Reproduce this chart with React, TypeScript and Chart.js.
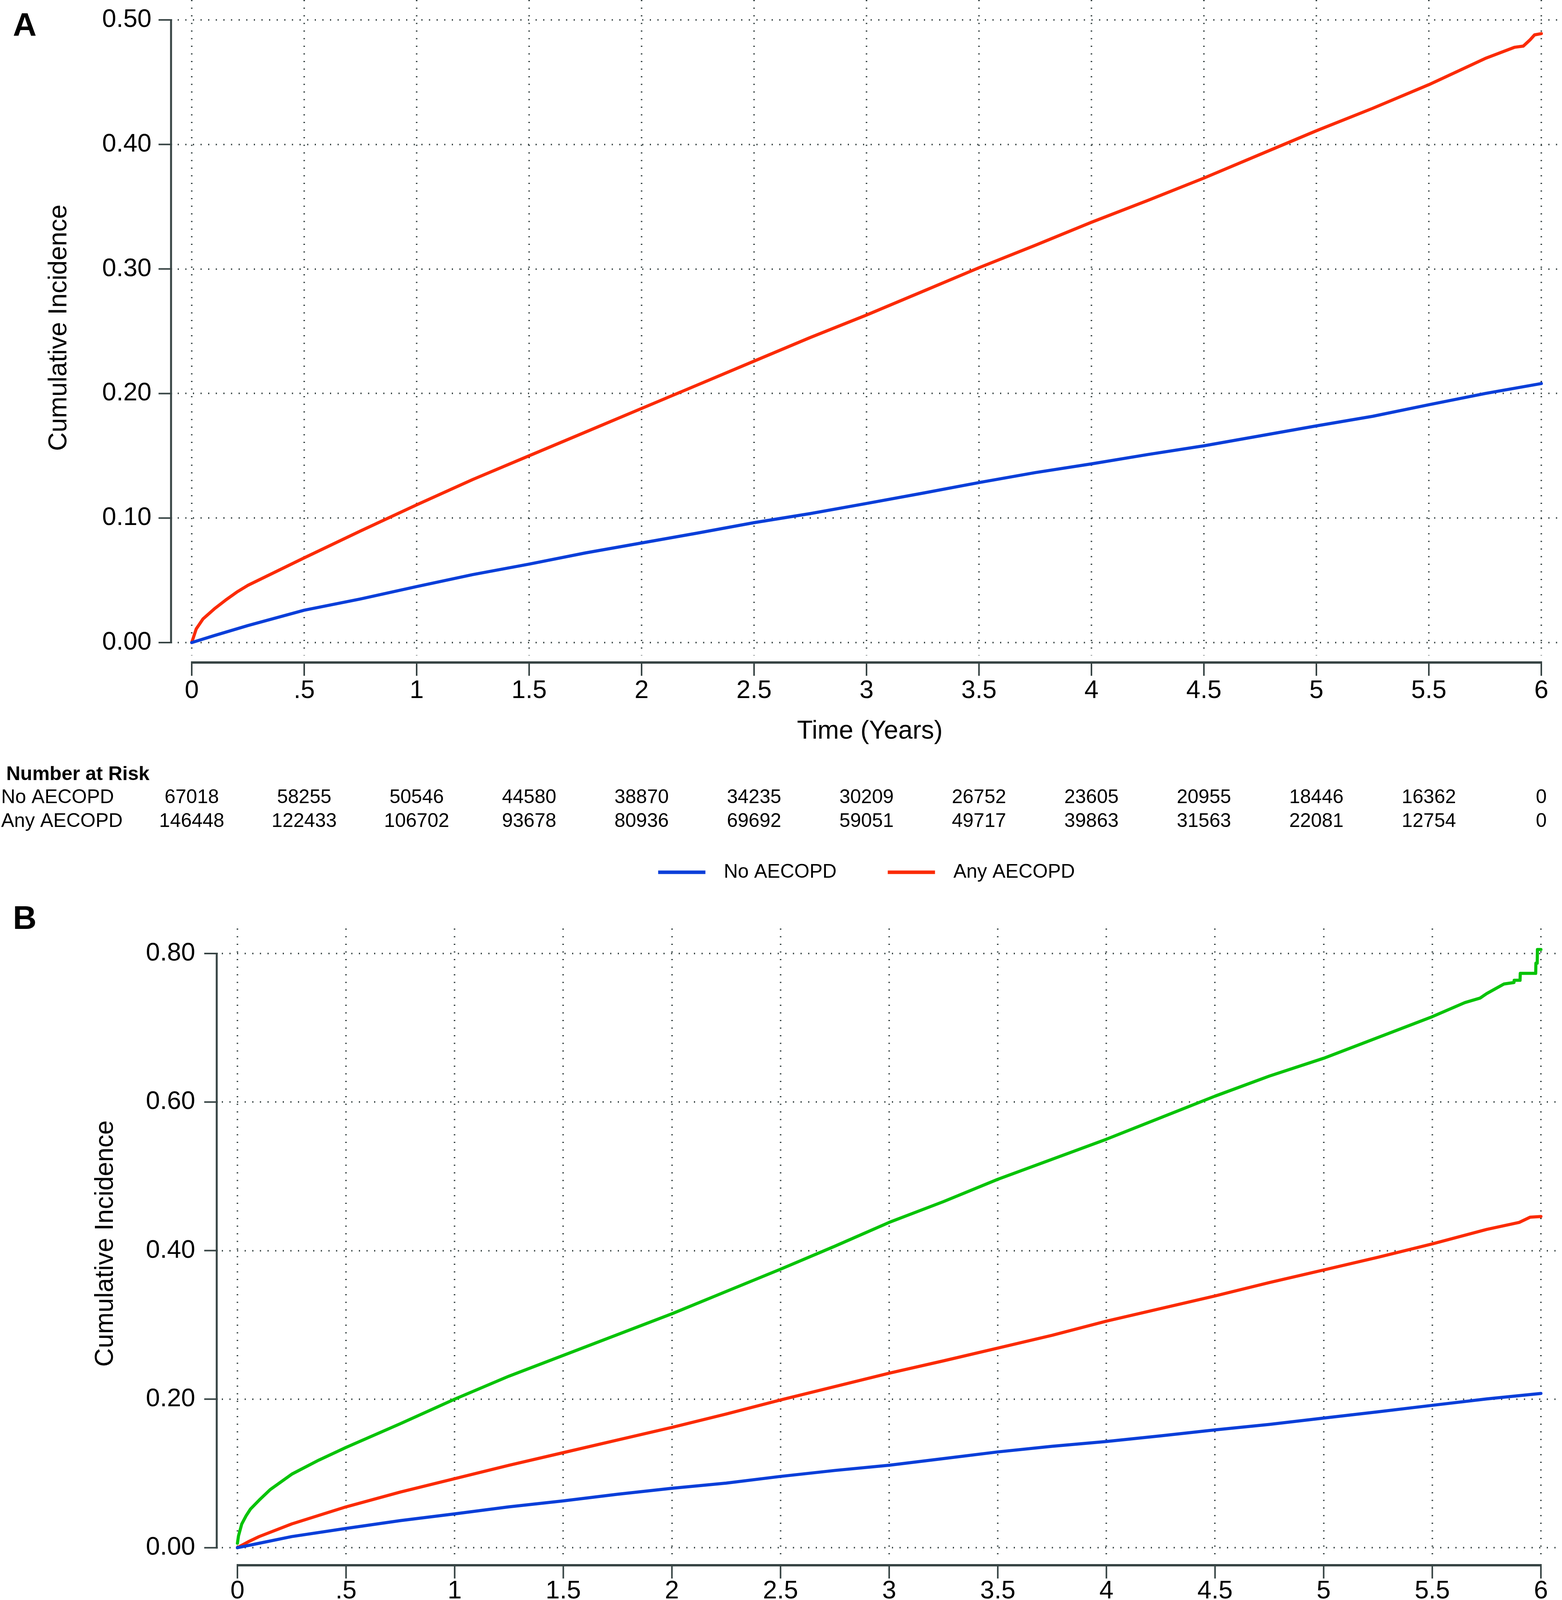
import React, { useEffect, useRef } from "react";
import { Chart, registerables } from "chart.js";

Chart.register(...registerables);

const FONT = "'Liberation Sans', Arial, Helvetica, sans-serif";
Chart.defaults.font.family = FONT;
Chart.defaults.color = "#000";

// ---------- shared axis data ----------
const xTickValues = [0, 0.5, 1, 1.5, 2, 2.5, 3, 3.5, 4, 4.5, 5, 5.5, 6];
const xTickLabels = ["0", ".5", "1", "1.5", "2", "2.5", "3", "3.5", "4", "4.5", "5", "5.5", "6"];
const yTicksA = [0, 0.1, 0.2, 0.3, 0.4, 0.5];
const yTicksB = [0, 0.2, 0.4, 0.6, 0.8];

// ---------- Panel A ----------
const timeNoA = [0, 0.1, 0.25, 0.5, 0.75, 1, 1.25, 1.5, 1.75, 2, 2.25, 2.5, 2.75, 3, 3.25, 3.5, 3.75, 4, 4.25, 4.5, 4.75, 5, 5.25, 5.5, 5.75, 6];
const incNoA = [0, 0.0056, 0.0137, 0.026, 0.035, 0.045, 0.0546, 0.063, 0.072, 0.08, 0.088, 0.0963, 0.1036, 0.1117, 0.12, 0.1285, 0.1365, 0.1435, 0.151, 0.158, 0.166, 0.174, 0.1817, 0.191, 0.2, 0.208];

const timeAnyA = [0, 0.02, 0.05, 0.1, 0.15, 0.2, 0.25, 0.5, 0.75, 1, 1.25, 1.5, 1.75, 2, 2.25, 2.5, 2.75, 3, 3.25, 3.5, 3.75, 4, 4.25, 4.5, 4.75, 5, 5.25, 5.5, 5.75, 5.88, 5.92, 5.95, 5.97, 6];
const incAnyA = [0, 0.011, 0.019, 0.027, 0.034, 0.0405, 0.046, 0.068, 0.0896, 0.1106, 0.131, 0.15, 0.169, 0.188, 0.207, 0.226, 0.245, 0.263, 0.282, 0.301, 0.319, 0.3375, 0.355, 0.373, 0.392, 0.411, 0.429, 0.448, 0.469, 0.478, 0.479, 0.484, 0.488, 0.489];

const riskNoA = [67018, 58255, 50546, 44580, 38870, 34235, 30209, 26752, 23605, 20955, 18446, 16362, 0];
const riskAnyA = [146448, 122433, 106702, 93678, 80936, 69692, 59051, 49717, 39863, 31563, 22081, 12754, 0];

// ---------- Panel B ----------
const timeNoB = [0, 0.1, 0.25, 0.5, 0.75, 1, 1.25, 1.5, 1.75, 2, 2.25, 2.5, 2.75, 3, 3.25, 3.5, 3.75, 4, 4.25, 4.5, 4.75, 5, 5.25, 5.5, 5.75, 6];
const incNoB = [0, 0.006, 0.015, 0.026, 0.0365, 0.0456, 0.055, 0.063, 0.072, 0.08, 0.087, 0.096, 0.104, 0.111, 0.12, 0.129, 0.1365, 0.143, 0.1506, 0.1586, 0.166, 0.1746, 0.183, 0.1917, 0.2003, 0.2077];

const timeModB = [0, 0.05, 0.1, 0.25, 0.5, 0.75, 1, 1.25, 1.5, 1.75, 2, 2.25, 2.5, 2.75, 3, 3.25, 3.5, 3.75, 4, 4.25, 4.5, 4.75, 5, 5.25, 5.5, 5.75, 5.9, 5.95, 6];
const incModB = [0, 0.008, 0.015, 0.032, 0.055, 0.075, 0.093, 0.111, 0.128, 0.145, 0.162, 0.18, 0.199, 0.217, 0.235, 0.2516, 0.2688, 0.286, 0.305, 0.322, 0.339, 0.357, 0.374, 0.391, 0.409, 0.4285, 0.438, 0.445, 0.446];

const timeSevB = [0, 0.005, 0.02, 0.04, 0.06, 0.1, 0.15, 0.25, 0.375, 0.5, 0.75, 1, 1.25, 1.5, 1.75, 2, 2.25, 2.5, 2.75, 3, 3.25, 3.5, 3.75, 4, 4.25, 4.5, 4.75, 5, 5.25, 5.5, 5.65, 5.72, 5.75, 5.83, 5.876, 5.877, 5.904, 5.905, 5.976, 5.977, 5.983, 5.984, 6];
const incSevB = [0.006, 0.016, 0.032, 0.043, 0.052, 0.064, 0.078, 0.099, 0.118, 0.135, 0.167, 0.2, 0.231, 0.259, 0.287, 0.315, 0.345, 0.375, 0.406, 0.438, 0.466, 0.496, 0.523, 0.55, 0.579, 0.608, 0.635, 0.659, 0.687, 0.715, 0.734, 0.74, 0.746, 0.759, 0.761, 0.764, 0.764, 0.7733, 0.7733, 0.787, 0.787, 0.8054, 0.8054];

const riskNoB = [67018, 58255, 50546, 44580, 38870, 34235, 30209, 26752, 23605, 20955, 18446, 16362, 0];
const riskModB = [119124, 104070, 91816, 81428, 70904, 61565, 52633, 44612, 36040, 28725, 20232, 11772, 0];
const riskSevB = [27324, 18363, 14886, 12250, 10032, 8127, 6418, 5105, 3823, 2838, 1849, 982, 0];

// ---------- styles ----------
const BLUE = "#0b3fd9";
const RED = "#fb2b05";
const GREEN = "#08c308";
const AXIS = "#374444";
const GRID = "#3a4646";

const toPts = (t: number[], v: number[]) => t.map((x, i) => ({ x, y: v[i] }));

const lineDs = (label: string, color: string, t: number[], v: number[]) => ({
  label,
  data: toPts(t, v),
  borderColor: color,
  backgroundColor: color,
  borderWidth: 8,
  pointRadius: 0,
  pointHoverRadius: 0,
  fill: false,
  tension: 0,
  borderJoinStyle: "round",
  borderCapStyle: "round",
});

const panelA = {
  key: "A",
  height: 2320,
  padTop: 0,
  yAxisWidth: 455,
  xAxisHeight: 642,
  xMin: -0.0625,
  xMax: 6.092,
  yMin: -0.01035,
  yMax: 0.516,
  yTicks: yTicksA,
  yLabelPad: 67,
  yTitlePadTop: 112,
  xLabelPad: 52,
  xTitlePadBottom: 408,
  axisX: 438,
  axisY: 1696,
  letterX: 33,
  letterBase: 92,
  riskTitleX: 16,
  riskTitleBase: 1997,
  riskLabelX: 3,
  riskRowBase: 2056,
  riskRowStep: 60.5,
  legendY: 2233,
  datasets: [lineDs("No AECOPD", BLUE, timeNoA, incNoA), lineDs("Any AECOPD", RED, timeAnyA, incAnyA)],
  riskRows: [
    { label: "No AECOPD", values: riskNoA },
    { label: "Any AECOPD", values: riskAnyA },
  ],
};

const panelB = {
  key: "B",
  height: 2350,
  padTop: 57,
  yAxisWidth: 568,
  xAxisHeight: 680,
  xMin: -0.0719,
  xMax: 6.0971,
  yMin: -0.01466,
  yMax: 0.8337,
  yTicks: yTicksB,
  yLabelPad: 68,
  yTitlePadTop: 231,
  xLabelPad: 45,
  xTitlePadBottom: 441,
  axisX: 555,
  axisY: 1687,
  letterX: 33,
  letterBase: 58,
  riskTitleX: 26,
  riskTitleBase: 1992,
  riskLabelX: 13,
  riskRowBase: 2052,
  riskRowStep: 60,
  legendY: 2289,
  datasets: [
    lineDs("No AECOPD", BLUE, timeNoB, incNoB),
    lineDs("Moderate AECOPD", RED, timeModB, incModB),
    lineDs("Severe AECOPD", GREEN, timeSevB, incSevB),
  ],
  riskRows: [
    { label: "No AECOPD", values: riskNoB },
    { label: "Moderate AECOPD", values: riskModB },
    { label: "Severe AECOPD", values: riskSevB },
  ],
};

function makeDecor(cfg: any) {
  return {
    id: "decor" + cfg.key,
    afterDraw(chart: any) {
      const ctx = chart.ctx;
      const xs = chart.scales.x;
      const ys = chart.scales.y;
      ctx.save();
      ctx.strokeStyle = AXIS;
      ctx.lineCap = "butt";

      // y axis line + ticks
      const yTop = ys.getPixelForValue(cfg.yTicks[cfg.yTicks.length - 1]);
      const yBot = ys.getPixelForValue(0);
      ctx.lineWidth = 5;
      ctx.beginPath();
      ctx.moveTo(cfg.axisX, yTop - 2);
      ctx.lineTo(cfg.axisX, yBot + 2);
      ctx.stroke();
      ctx.lineWidth = 4;
      for (const v of cfg.yTicks) {
        const p = ys.getPixelForValue(v);
        ctx.beginPath();
        ctx.moveTo(cfg.axisX - 32, p);
        ctx.lineTo(cfg.axisX + 2.5, p);
        ctx.stroke();
      }

      // x axis line + ticks
      const xL = xs.getPixelForValue(xTickValues[0]);
      const xR = xs.getPixelForValue(xTickValues[xTickValues.length - 1]);
      ctx.lineWidth = 6;
      ctx.beginPath();
      ctx.moveTo(xL - 2, cfg.axisY);
      ctx.lineTo(xR + 2, cfg.axisY);
      ctx.stroke();
      ctx.lineWidth = 4;
      for (const v of xTickValues) {
        const p = xs.getPixelForValue(v);
        ctx.beginPath();
        ctx.moveTo(p, cfg.axisY - 3);
        ctx.lineTo(p, cfg.axisY + 34);
        ctx.stroke();
      }

      // panel letter
      ctx.fillStyle = "#000";
      ctx.textAlign = "left";
      ctx.textBaseline = "alphabetic";
      ctx.font = `bold 84px ${FONT}`;
      ctx.fillText(cfg.key, cfg.letterX, cfg.letterBase);

      // number at risk table
      ctx.font = `bold 50px ${FONT}`;
      ctx.fillText("Number at Risk", cfg.riskTitleX, cfg.riskTitleBase);
      ctx.font = `50px ${FONT}`;
      cfg.riskRows.forEach((row: any, r: number) => {
        const base = cfg.riskRowBase + r * cfg.riskRowStep;
        ctx.textAlign = "left";
        ctx.fillText(row.label, cfg.riskLabelX, base);
        ctx.textAlign = "center";
        row.values.forEach((val: number, i: number) => {
          ctx.fillText(String(val), xs.getPixelForValue(xTickValues[i]), base);
        });
      });

      // legend
      const items = chart.data.datasets.map((d: any) => ({ label: d.label, color: d.borderColor, w: 0 }));
      const lineW = 121;
      const gapLT = 47;
      const gapItem = 131;
      ctx.font = `50px ${FONT}`;
      let total = 0;
      items.forEach((it: any, i: number) => {
        it.w = ctx.measureText(it.label).width;
        total += lineW + gapLT + it.w + (i > 0 ? gapItem : 0);
      });
      let x = (xL + xR) / 2 - total / 2;
      ctx.textAlign = "left";
      ctx.textBaseline = "middle";
      items.forEach((it: any) => {
        ctx.fillStyle = it.color;
        ctx.fillRect(x, cfg.legendY - 4.5, lineW, 9);
        x += lineW + gapLT;
        ctx.fillStyle = "#000";
        ctx.fillText(it.label, x, cfg.legendY);
        x += it.w + gapItem;
      });
      ctx.restore();
    },
  };
}

function buildConfig(cfg: any) {
  const fitReset = (s: any) => {
    s.paddingLeft = 0;
    s.paddingRight = 0;
    s.paddingTop = 0;
    s.paddingBottom = 0;
  };
  const gridOpts = { display: true, drawOnChartArea: true, drawTicks: false, color: GRID, lineWidth: 4, borderDash: [3, 16.5] };
  return {
    type: "line",
    data: { datasets: cfg.datasets },
    options: {
      responsive: false,
      maintainAspectRatio: false,
      animation: false,
      devicePixelRatio: 1,
      events: [],
      layout: { padding: { top: cfg.padTop, left: 0, right: 0, bottom: 0 }, autoPadding: false },
      plugins: { legend: { display: false }, tooltip: { enabled: false }, title: { display: false } },
      scales: {
        x: {
          type: "linear",
          min: cfg.xMin,
          max: cfg.xMax,
          afterBuildTicks: (s: any) => {
            s.ticks = xTickValues.map((v) => ({ value: v }));
          },
          afterFit: (s: any) => {
            s.height = cfg.xAxisHeight;
            fitReset(s);
          },
          grid: gridOpts,
          border: { display: false, dash: [3, 16.5] },
          ticks: {
            autoSkip: false,
            maxRotation: 0,
            minRotation: 0,
            padding: cfg.xLabelPad,
            color: "#000",
            font: { size: 65, family: FONT },
            callback: (v: any) => {
              const i = xTickValues.indexOf(Number(v));
              return i >= 0 ? xTickLabels[i] : "";
            },
          },
          title: {
            display: true,
            text: "Time (Years)",
            color: "#000",
            font: { size: 66, family: FONT },
            padding: { top: 0, bottom: cfg.xTitlePadBottom },
          },
        },
        y: {
          type: "linear",
          min: cfg.yMin,
          max: cfg.yMax,
          afterBuildTicks: (s: any) => {
            s.ticks = cfg.yTicks.map((v: number) => ({ value: v }));
          },
          afterFit: (s: any) => {
            s.width = cfg.yAxisWidth;
            fitReset(s);
          },
          grid: gridOpts,
          border: { display: false, dash: [3, 16.5] },
          ticks: {
            padding: cfg.yLabelPad,
            color: "#000",
            font: { size: 65, family: FONT },
            callback: (v: any) => Number(v).toFixed(2),
          },
          title: {
            display: true,
            text: "Cumulative Incidence",
            color: "#000",
            font: { size: 66, family: FONT },
            padding: { top: cfg.yTitlePadTop, bottom: 0 },
          },
        },
      },
    },
    plugins: [makeDecor(cfg)],
  };
}

function Panel({ cfg, top }: { cfg: any; top: number }) {
  const ref = useRef<HTMLCanvasElement>(null);
  useEffect(() => {
    const chart = new Chart(ref.current as HTMLCanvasElement, buildConfig(cfg) as any);
    return () => chart.destroy();
  }, [cfg]);
  return (
    <canvas
      ref={ref}
      width={4000}
      height={cfg.height}
      style={{ position: "absolute", left: 0, top, width: 4000, height: cfg.height, display: "block" }}
    />
  );
}

export default function App() {
  useEffect(() => {
    document.body.style.margin = "0";
  }, []);
  return (
    <div style={{ position: "absolute", left: 0, top: 0, width: 4000, height: 4670, background: "#fff", overflow: "hidden" }}>
      <Panel cfg={panelA} top={0} />
      <Panel cfg={panelB} top={2320} />
    </div>
  );
}
